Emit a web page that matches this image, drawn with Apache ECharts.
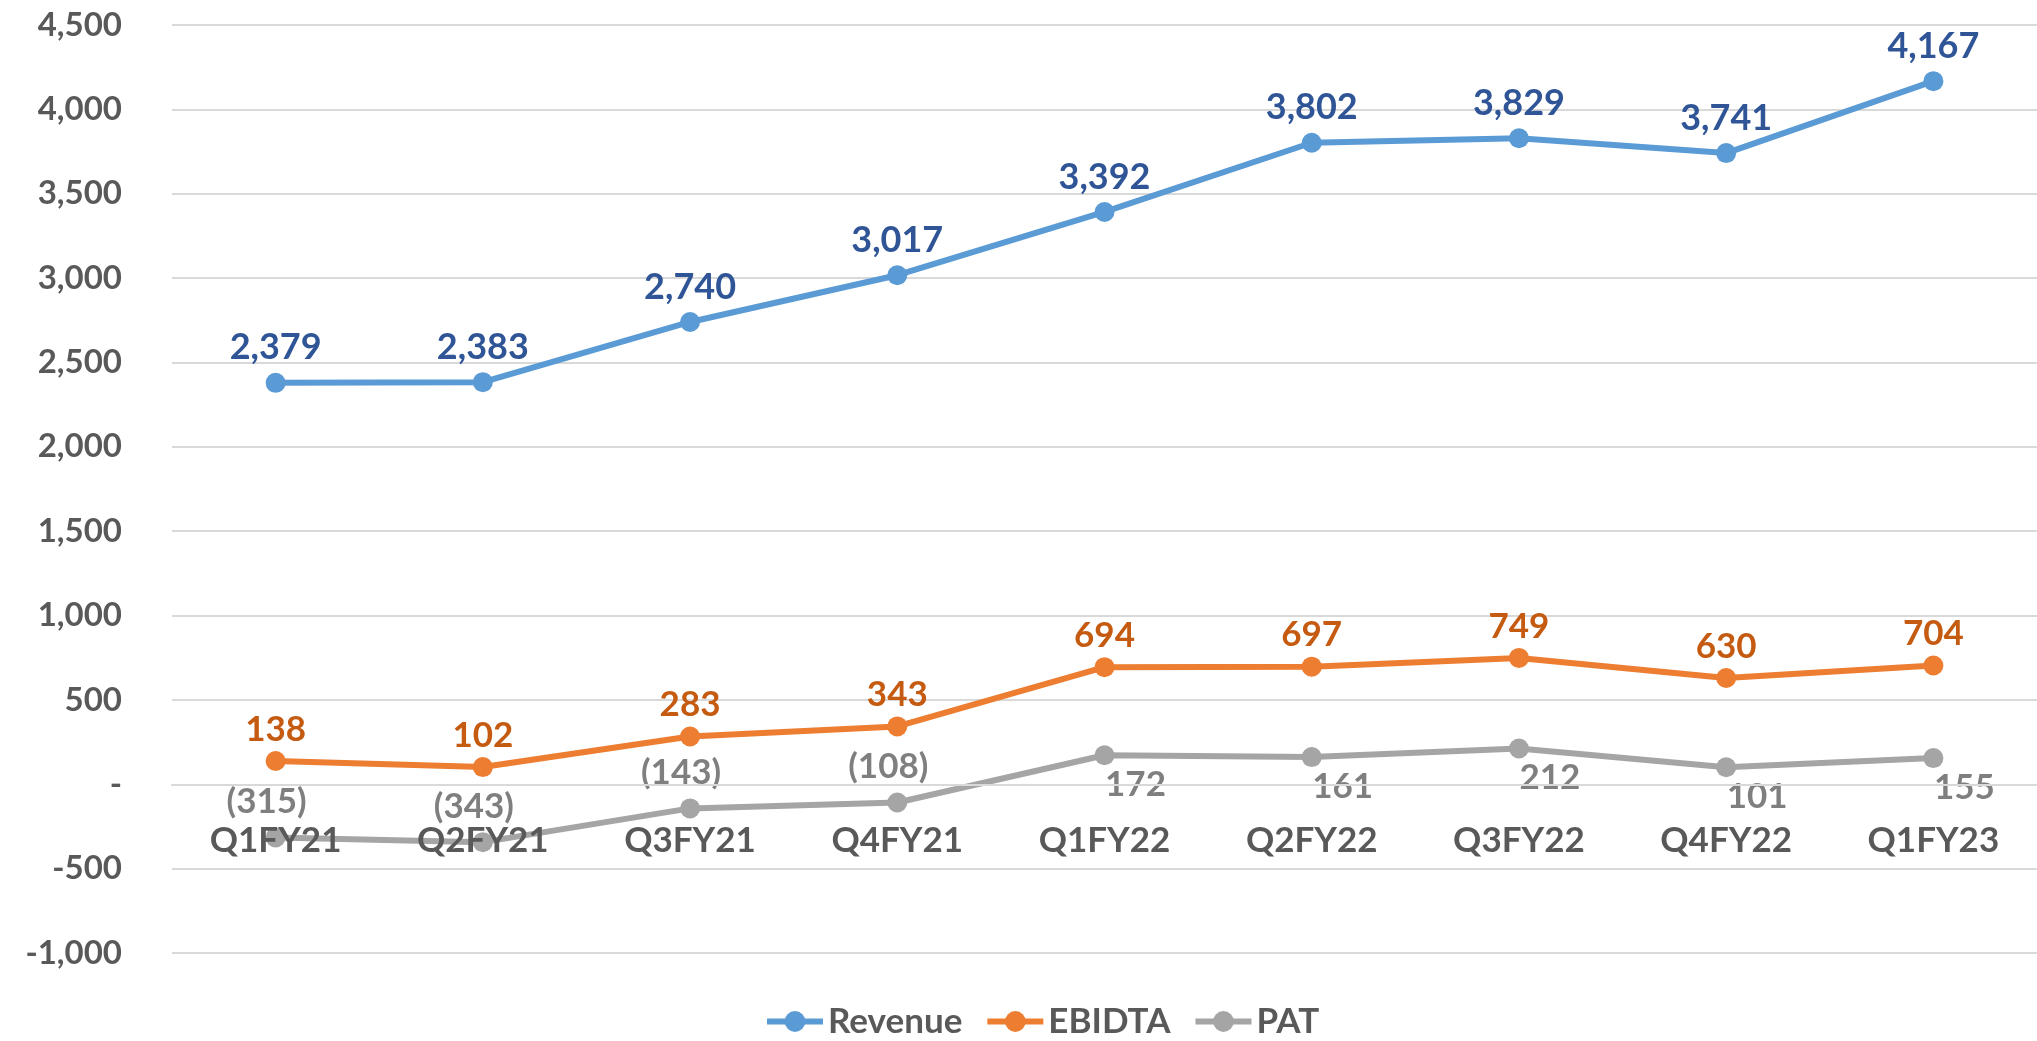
<!DOCTYPE html>
<html>
<head>
<meta charset="utf-8">
<title>Revenue / EBIDTA / PAT</title>
<script src="https://cdn.jsdelivr.net/npm/echarts@6/dist/echarts.min.js"></script>
<style>
    html, body { margin: 0; padding: 0; background: #fff; }
    #chart { width: 2037px; height: 1041px; }
</style>
</head>
<body>
<div id="chart"></div>
<script>
var quarters = ["Q1FY21", "Q2FY21", "Q3FY21", "Q4FY21", "Q1FY22", "Q2FY22", "Q3FY22", "Q4FY22", "Q1FY23"];
var revenue = [2379, 2383, 2740, 3017, 3392, 3802, 3829, 3741, 4167];
var ebidta = [138, 102, 283, 343, 694, 697, 749, 630, 704];
var pat = [-315, -343, -143, -108, 172, 161, 212, 101, 155];
var yTicks = [-1000, 4500, 500];   // min, max, step

var FONT = "Lato";
var GRID_TOP = 25, GRID_BOTTOM = 88, CHART_H = 1041;

function fmtNum(v) {
    return Math.abs(v).toString().replace(/\B(?=(\d{3})+(?!\d))/g, ",");
}

function fmtAxis(v) {
    if (v === 0) return "-";
    return (v < 0 ? "-" : "") + fmtNum(v);
}

function fmtPat(v) {
    return v < 0 ? "(" + fmtNum(v) + ")" : fmtNum(v);
}

// distance from the grid bottom up to the zero line, so the category labels hang under 0
function zeroOffset() {
    var h = CHART_H - GRID_TOP - GRID_BOTTOM;
    return -(0 - yTicks[0]) / (yTicks[1] - yTicks[0]) * h;
}

// PAT labels sit above the point when negative, below (and a bit right) when positive
function patPoints(values) {
    return values.map(function (v) {
        return {
            value: v,
            label: v < 0
                ? { position: "top", distance: 8, offset: [-9, 0] }
                : { position: "bottom", distance: 2, offset: [31, 0] }
        };
    });
}

function lineSeries(name, data, color, labelColor, labelSize, dist) {
    return {
        name: name,
        type: "line",
        data: data,
        symbol: "circle",
        symbolSize: 20,
        lineStyle: { width: 6, color: color },
        itemStyle: { color: color },
        label: {
            show: true,
            position: "top",
            distance: dist,
            color: labelColor,
            fontFamily: FONT,
            fontWeight: "bold",
            fontSize: labelSize
        }
    };
}

var revSeries = lineSeries("Revenue", revenue, "#5B9BD5", "#2F5597", 36, 7);
revSeries.label.formatter = function (p) { return fmtNum(p.value); };

var ebSeries = lineSeries("EBIDTA", ebidta, "#ED7D31", "#C55A11", 35, 4);

var patSeries = lineSeries("PAT", patPoints(pat), "#A5A5A5", "#7F7F7F", 35, 4);
patSeries.label.formatter = function (p) { return fmtPat(p.value); };

var option = {
    backgroundColor: "#ffffff",
    animation: false,
    grid: { left: 172, right: -10, top: GRID_TOP, bottom: GRID_BOTTOM },
    legend: {
        bottom: -3,
        left: 759,
        itemWidth: 56,
        itemHeight: 26,
        itemGap: 22,
        lineStyle: { width: 6 },
        textStyle: { color: "#595959", fontFamily: FONT, fontWeight: "bold", fontSize: 35 },
        data: ["Revenue", "EBIDTA", "PAT"]
    },
    xAxis: {
        type: "category",
        data: quarters,
        z: 5,
        offset: zeroOffset(),
        axisLine: { onZero: false, lineStyle: { color: "#D9D9D9", width: 2 } },
        axisTick: { show: false },
        axisLabel: { color: "#595959", fontFamily: FONT, fontWeight: "bold", fontSize: 35, margin: 39 }
    },
    yAxis: {
        type: "value",
        min: yTicks[0],
        max: yTicks[1],
        interval: yTicks[2],
        axisLine: { show: false },
        axisTick: { show: false },
        splitLine: { lineStyle: { color: "#D9D9D9", width: 2 } },
        axisLabel: { color: "#595959", fontFamily: FONT, fontWeight: "bold", fontSize: 33, margin: 50, formatter: fmtAxis }
    },
    series: [revSeries, ebSeries, patSeries]
};

var dataChart = echarts.init(document.getElementById("chart"));
dataChart.setOption(option, true);
</script>
</body>
</html>
